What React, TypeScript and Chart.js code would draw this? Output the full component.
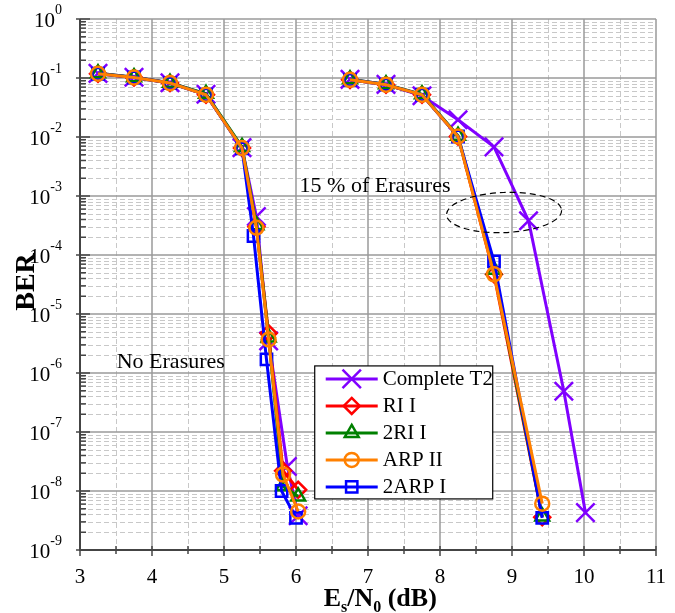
import React, { useEffect, useRef } from 'react';
import { Chart, registerables } from 'chart.js';

Chart.register(...registerables);

// ---------- data ----------
const seriesNames = ['Complete T2', 'RI I', '2RI I', 'ARP II', '2ARP I'];

// Es/N0 (dB) positions
const snrLeft = [3.25, 3.75, 4.25, 4.75, 5.25, 5.45, 5.62, 5.82, 6.03];
const snrRight = [6.75, 7.25, 7.75, 8.25, 8.75, 9.42];
const t2SnrLeft = [3.25, 3.75, 4.25, 4.75, 5.25, 5.45, 5.62, 5.88, 6.03];
const t2SnrRight = [6.75, 7.25, 7.75, 8.25, 8.75, 9.23, 9.72, 10.02];
const arp2SnrLeft = [3.25, 3.75, 4.25, 4.75, 5.25, 5.41, 5.59, 5.8, 6.0];

// BER values, "No Erasures" cluster (left) and "15 % of Erasures" cluster (right)
const completeT2Left = [0.12, 0.103, 0.083, 0.053, 0.0066, 4.5e-4, 3.5e-6, 2.6e-8, 3.8e-9];
const completeT2Right = [0.095, 0.078, 0.05, 0.0196, 0.0068, 3.8e-4, 4.9e-7, 4.3e-9];
const ri1Left = [0.118, 0.102, 0.082, 0.052, 0.0065, 3.0e-4, 4.7e-6, 2.2e-8, 1.05e-8];
const ri1Right = [0.093, 0.077, 0.052, 0.0102, 4.7e-5, 3.6e-9];
const twoRi1Left = [0.12, 0.103, 0.083, 0.054, 0.0068, 3.2e-4, 4.0e-6, 1.2e-8, 8.1e-9];
const twoRi1Right = [0.095, 0.078, 0.053, 0.0105, 5.6e-5, 3.7e-9];
const arp2Left = [0.118, 0.102, 0.082, 0.052, 0.0065, 2.9e-4, 3.7e-6, 1.9e-8, 4.5e-9];
const arp2Right = [0.093, 0.077, 0.052, 0.0102, 4.7e-5, 6.1e-9];
const twoArp1Left = [0.118, 0.102, 0.082, 0.052, 0.0064, 2.1e-4, 1.7e-6, 1.0e-8, 3.5e-9];
const twoArp1Right = [0.093, 0.077, 0.052, 0.0102, 7.8e-5, 3.5e-9];

// axis ticks
const xTickValues = [3, 4, 5, 6, 7, 8, 9, 10, 11];
const yTickExponents = [0, -1, -2, -3, -4, -5, -6, -7, -8, -9];

// annotation texts
const annotErasures = '15 % of Erasures';
const annotNoErasures = 'No Erasures';

// ---------- styles ----------
const COLORS = ['#8000FF', '#FF0000', '#008000', '#FF8000', '#0000FF'];
const STYLES = ['crossRot', 'rectRot', 'triangle', 'circle', 'rect'];
const RADII = [13, 8, 8, 7, 8];
const ORDERS = [4, 3, 2, 0, 1];
const SERIF = '"Liberation Serif", "Times New Roman", serif';

const GAP = 6.4;

function combine(xl: number[], yl: number[], xr: number[], yr: number[]) {
  const out: { x: number; y: number | null }[] = [];
  xl.forEach((x, i) => out.push({ x, y: yl[i] }));
  out.push({ x: GAP, y: null });
  xr.forEach((x, i) => out.push({ x, y: yr[i] }));
  return out;
}

function drawMarker(ctx: CanvasRenderingContext2D, style: string, x: number, y: number, r: number) {
  ctx.beginPath();
  const q = Math.PI / 4;
  switch (style) {
    case 'crossRot': {
      const o = Math.cos(q) * r;
      ctx.moveTo(x - o, y - o);
      ctx.lineTo(x + o, y + o);
      ctx.moveTo(x - o, y + o);
      ctx.lineTo(x + o, y - o);
      break;
    }
    case 'rectRot':
      ctx.moveTo(x, y - r);
      ctx.lineTo(x + r, y);
      ctx.lineTo(x, y + r);
      ctx.lineTo(x - r, y);
      ctx.closePath();
      break;
    case 'triangle': {
      const s = Math.sin(Math.PI / 3) * r;
      ctx.moveTo(x, y - r);
      ctx.lineTo(x + s, y + r / 2);
      ctx.lineTo(x - s, y + r / 2);
      ctx.closePath();
      break;
    }
    case 'circle':
      ctx.arc(x, y, r, 0, Math.PI * 2);
      break;
    case 'rect': {
      const h = Math.SQRT1_2 * r;
      ctx.rect(x - h, y - h, 2 * h, 2 * h);
      break;
    }
  }
  ctx.stroke();
}

const decorPlugin = {
  id: 'decor',
  beforeDatasetsDraw(chart: any) {
    const { ctx, chartArea: a, scales } = chart;
    const xs = scales.x;
    const ys = scales.y;
    ctx.save();
    // minor grid
    ctx.strokeStyle = '#c8c8c8';
    ctx.lineWidth = 1;
    ctx.setLineDash([5, 3]);
    for (let e = -9; e < 0; e++) {
      for (let m = 2; m <= 9; m++) {
        const py = Math.round(ys.getPixelForValue(m * Math.pow(10, e))) + 0.5;
        ctx.beginPath();
        ctx.moveTo(a.left, py);
        ctx.lineTo(a.right, py);
        ctx.stroke();
      }
    }
    for (let i = 0; i < xTickValues.length - 1; i++) {
      const px = Math.round(xs.getPixelForValue(xTickValues[i] + 0.5)) + 0.5;
      ctx.beginPath();
      ctx.moveTo(px, a.top);
      ctx.lineTo(px, a.bottom);
      ctx.stroke();
    }
    ctx.setLineDash([]);
    // major grid
    ctx.strokeStyle = '#9a9a9a';
    ctx.lineWidth = 1.5;
    yTickExponents.forEach((e) => {
      const py = ys.getPixelForValue(Math.pow(10, e));
      ctx.beginPath();
      ctx.moveTo(a.left, py);
      ctx.lineTo(a.right, py);
      ctx.stroke();
    });
    xTickValues.forEach((v) => {
      const px = xs.getPixelForValue(v);
      ctx.beginPath();
      ctx.moveTo(px, a.top);
      ctx.lineTo(px, a.bottom);
      ctx.stroke();
    });
    // axes
    ctx.strokeStyle = '#444444';
    ctx.lineWidth = 2;
    ctx.beginPath();
    ctx.moveTo(a.left, a.top);
    ctx.lineTo(a.left, a.bottom);
    ctx.lineTo(a.right, a.bottom);
    ctx.stroke();
    // y ticks
    ctx.lineWidth = 1.5;
    for (let e = -9; e < 0; e++) {
      for (let m = 2; m <= 9; m++) {
        const py = ys.getPixelForValue(m * Math.pow(10, e));
        ctx.beginPath();
        ctx.moveTo(a.left, py);
        ctx.lineTo(a.left + 6, py);
        ctx.stroke();
      }
    }
    yTickExponents.forEach((e) => {
      const py = ys.getPixelForValue(Math.pow(10, e));
      ctx.beginPath();
      ctx.moveTo(a.left - 4, py);
      ctx.lineTo(a.left + 10, py);
      ctx.stroke();
    });
    // x ticks
    xTickValues.forEach((v, i) => {
      const px = xs.getPixelForValue(v);
      ctx.beginPath();
      ctx.moveTo(px, a.bottom + 6);
      ctx.lineTo(px, a.bottom - 4);
      ctx.stroke();
      if (i < xTickValues.length - 1) {
        const ph = xs.getPixelForValue(v + 0.5);
        ctx.beginPath();
        ctx.moveTo(ph, a.bottom + 4);
        ctx.lineTo(ph, a.bottom - 4);
        ctx.stroke();
      }
    });
    ctx.restore();
  },
  afterDatasetsDraw(chart: any) {
    const { ctx, chartArea: a, scales } = chart;
    const xs = scales.x;
    const ys = scales.y;
    ctx.save();
    ctx.fillStyle = '#000';
    // y tick labels
    yTickExponents.forEach((e) => {
      const py = ys.getPixelForValue(Math.pow(10, e));
      ctx.font = `14px ${SERIF}`;
      ctx.textBaseline = 'middle';
      ctx.textAlign = 'left';
      const expTxt = e === 0 ? '0' : '-' + String(-e);
      const expW = ctx.measureText(expTxt).width;
      const right = a.left - 18;
      ctx.fillText(expTxt, right - expW, py - 9);
      ctx.font = `21px ${SERIF}`;
      ctx.textAlign = 'right';
      ctx.fillText('10', right - expW, py + 2);
    });
    // x tick labels
    ctx.font = `21px ${SERIF}`;
    ctx.textAlign = 'center';
    ctx.textBaseline = 'middle';
    xTickValues.forEach((v) => {
      ctx.fillText(String(v), xs.getPixelForValue(v), a.bottom + 27);
    });
    // x title  E_s/N_0 (dB)
    const parts: [string, boolean][] = [['E', false], ['s', true], ['/N', false], ['0', true], [' (dB)', false]];
    const big = `bold 26px ${SERIF}`;
    const small = `bold 16px ${SERIF}`;
    let total = 0;
    parts.forEach(([t, sub]) => {
      ctx.font = sub ? small : big;
      total += ctx.measureText(t).width;
    });
    let cx = xs.getPixelForValue(7.17) - total / 2;
    const base = a.bottom + 56;
    ctx.textAlign = 'left';
    ctx.textBaseline = 'alphabetic';
    parts.forEach(([t, sub]) => {
      ctx.font = sub ? small : big;
      ctx.fillText(t, cx, sub ? base + 6 : base);
      cx += ctx.measureText(t).width;
    });
    // y title
    ctx.save();
    ctx.translate(27, 282);
    ctx.rotate(-Math.PI / 2);
    ctx.font = `bold 28px ${SERIF}`;
    ctx.textAlign = 'center';
    ctx.textBaseline = 'middle';
    ctx.fillText('BER', 0, 0);
    ctx.restore();

    // annotations
    ctx.font = `22px ${SERIF}`;
    ctx.textAlign = 'left';
    ctx.textBaseline = 'middle';
    ctx.fillText(annotErasures, xs.getPixelForValue(6.05), ys.getPixelForValue(Math.pow(10, -2.83)));
    ctx.fillText(annotNoErasures, xs.getPixelForValue(3.51), ys.getPixelForValue(Math.pow(10, -5.81)));
    // dashed ellipse
    const ecx = xs.getPixelForValue(8.89);
    const ecy = ys.getPixelForValue(Math.pow(10, -3.28));
    const erx = xs.getPixelForValue(8.89 + 0.8) - ecx;
    const ery = ys.getPixelForValue(Math.pow(10, -3.28 - 0.34)) - ecy;
    ctx.strokeStyle = '#000';
    ctx.lineWidth = 1.2;
    ctx.setLineDash([6, 4]);
    ctx.beginPath();
    ctx.ellipse(ecx, ecy, erx, ery, -0.04, 0, Math.PI * 2);
    ctx.stroke();
    ctx.setLineDash([]);

    // legend
    const lx = xs.getPixelForValue(6.26);
    const ly = ys.getPixelForValue(Math.pow(10, -5.88));
    const lw = 178;
    const lh = 133;
    ctx.fillStyle = '#fff';
    ctx.fillRect(lx, ly, lw, lh);
    ctx.strokeStyle = '#000';
    ctx.lineWidth = 1.2;
    ctx.strokeRect(lx, ly, lw, lh);
    seriesNames.forEach((name, i) => {
      const ry = ly + 13 + i * 27;
      ctx.strokeStyle = COLORS[i];
      ctx.lineWidth = 3;
      ctx.beginPath();
      ctx.moveTo(lx + 11, ry);
      ctx.lineTo(lx + 63, ry);
      ctx.stroke();
      ctx.lineWidth = 2.5;
      drawMarker(ctx, STYLES[i], lx + 37, ry, RADII[i]);
      ctx.fillStyle = '#000';
      ctx.font = `21px ${SERIF}`;
      ctx.textAlign = 'left';
      ctx.textBaseline = 'middle';
      ctx.fillText(name, lx + 68, ry + 1);
    });
    ctx.restore();
  },
};

export default function App() {
  const ref = useRef<HTMLCanvasElement | null>(null);
  useEffect(() => {
    if (!ref.current) return;
    const dataSets = [
      combine(t2SnrLeft, completeT2Left, t2SnrRight, completeT2Right),
      combine(snrLeft, ri1Left, snrRight, ri1Right),
      combine(snrLeft, twoRi1Left, snrRight, twoRi1Right),
      combine(snrLeft, arp2Left, snrRight, arp2Right),
      combine(arp2SnrLeft, twoArp1Left, snrRight, twoArp1Right),
    ];
    const chart = new Chart(ref.current, {
      type: 'line',
      data: {
        datasets: seriesNames.map((name, i) => ({
          label: name,
          data: dataSets[i],
          borderColor: COLORS[i],
          borderWidth: 3,
          pointStyle: STYLES[i] as any,
          pointRadius: RADII[i],
          pointHoverRadius: RADII[i],
          pointBorderWidth: 2.5,
          pointBorderColor: COLORS[i],
          pointBackgroundColor: 'rgba(0,0,0,0)',
          tension: 0,
          spanGaps: false,
          order: ORDERS[i],
        })),
      },
      options: {
        responsive: false,
        animation: false,
        devicePixelRatio: 1,
        layout: { padding: { left: 0, top: 19, right: 19, bottom: 0 }, autoPadding: false },
        plugins: { legend: { display: false }, tooltip: { enabled: false }, title: { display: false } },
        events: [],
        scales: {
          x: {
            type: 'linear',
            min: 3,
            max: 11,
            ticks: { display: false },
            grid: { display: false },
            border: { display: false },
            afterFit: (s: any) => { s.height = 63; },
          },
          y: {
            type: 'logarithmic',
            min: 1e-9,
            max: 1,
            ticks: { display: false },
            grid: { display: false },
            border: { display: false },
            afterFit: (s: any) => { s.width = 80; },
          },
        },
      },
      plugins: [decorPlugin],
    });
    return () => chart.destroy();
  }, []);
  return (
    <div style={{ position: 'fixed', left: 0, top: 0, width: 675, height: 613, background: '#fff' }}>
      <canvas ref={ref} width={675} height={613} style={{ display: 'block' }} />
    </div>
  );
}
